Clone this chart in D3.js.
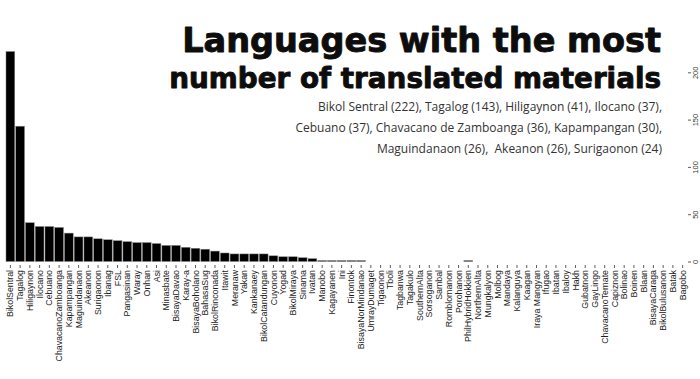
<!DOCTYPE html>
<html>
<head>
<meta charset="utf-8">
<script src="https://cdn.jsdelivr.net/npm/d3@7"></script>
<style>
  html, body { margin: 0; padding: 0; background: #fff; }
  svg { display: block; }
</style>
</head>
<body>
<svg id="chart" width="700" height="379"></svg>
<script>
// ---- data ----
const languages = [
  "BikolSentral","Tagalog","Hiligaynon","Ilocano","Cebuano","ChavacanoZamboanga","Kapampangan",
  "Maguindanaon","Akeanon","Surigaonon","Ibanag","FSL","Pangasinan","Waray","Onhan","Asi",
  "Minasbate","BisayaDavao","Karay-a","BisayaBoholano","BahasaSug","BikolRinconada","Itawit",
  "Meranaw","Yakan","Kankanaey","BikolCatandungan","Cuyonon","Yogad","BikolMiraya","Sinama",
  "Ivatan","Manobo","Kagayanen","Ini","Finontok","BisayaNorMindanao","UmrayDumaget","Tigaonon",
  "Tboli","Tagbanwa","Tagakulo","SouthernAlta","Sorsoganon","Sambal","Romblomanon","Porohanon",
  "PhilHybridHokkien","NorthernAlta","Mungkalyon","Molbog","Mandaya","Kalanguya","Kaagan",
  "Iraya Mangyan","Ifugao","Ibatan","Ibaloy","Hakh","Gubatnon","GayLingo","ChavacanoTernate",
  "Capiznon","Bolinao","Boinen","Blaan","BisayaCaraga","BikolBulusanon","Batak","Bagobo"
];
const materials = [
  222,143,41,37,37,36,30,
  26,26,24,23,22,21,20,20,19,
  17,17,15,14,13,11,9,
  8,8,8,8,6,5,5,4,
  3,1,1,1,1,1,0,0,
  0,0,0,0,0,0,0,0,
  1,0,0,0,0,0,0,
  0,0,0,0,0,0,0,0,
  0,0,0,0,0,0,0,0
];
const yTicks = [0, 50, 100, 150, 200];
const titleLines = ["Languages with the most", "number of translated materials"];
const subtitleLines = [
  "Bikol Sentral (222), Tagalog (143), Hiligaynon (41), Ilocano (37),",
  "Cebuano (37), Chavacano de Zamboanga (36), Kapampangan (30),",
  "Maguindanaon (26),\u00a0 Akeanon (26), Surigaonon (24)"
];

// ---- drawing ----
const svg = d3.select("#chart");
const data = languages.map((d, i) => ({ name: d, value: materials[i] }));

const x = d3.scaleBand().domain(languages).range([5.5, 687.5]).paddingInner(0.1).paddingOuter(0.05);
const y = d3.scaleLinear().domain([0, 200]).range([261.5, 72.3]);

// bars
svg.append("g").selectAll("rect").data(data).join("rect")
  .attr("x", d => x(d.name))
  .attr("width", x.bandwidth())
  .attr("y", d => y(d.value))
  .attr("height", d => y(0) - y(d.value))
  .attr("fill", "#000")
  .attr("stroke", d => d.value === 0 ? "#c4c4c4" : "#888")
  .attr("stroke-width", d => d.value === 0 ? 1 : 0.5);

// x axis
const xAxisY = 265;
const gx = svg.append("g").attr("transform", `translate(0,${xAxisY})`)
  .call(d3.axisBottom(x).tickSize(3).tickSizeOuter(0));
gx.select(".domain").remove();
gx.selectAll(".tick line").attr("stroke", "#333").attr("stroke-width", 0.8);
gx.selectAll(".tick text")
  .attr("transform", "rotate(-90)")
  .attr("text-anchor", "end")
  .attr("x", -5)
  .attr("y", 0)
  .attr("dy", "0.35em")
  .attr("fill", "#1a1a1a")
  .style("font-family", "'Liberation Sans', Arial, sans-serif")
  .style("font-size", "8.8px");

// y axis (right)
const gy = svg.append("g").attr("transform", "translate(688,0)")
  .call(d3.axisRight(y).tickValues(yTicks).tickSize(3));
gy.select(".domain").remove();
gy.selectAll(".tick line").attr("stroke", "#333").attr("stroke-width", 0.8);
gy.selectAll(".tick text")
  .attr("transform", "rotate(-90)")
  .attr("text-anchor", "middle")
  .attr("x", 0)
  .attr("y", 10)
  .attr("dy", 0)
  .attr("fill", "#333")
  .style("font-family", "'Liberation Sans', Arial, sans-serif")
  .style("font-size", "7.5px");

// title
const titleRight = 661;
const titleTargets = [479, 492];
const titleBase = [52, 88];
titleLines.forEach((t, i) => {
  const el = svg.append("text")
    .attr("x", titleRight).attr("y", titleBase[i])
    .attr("text-anchor", "end")
    .style("font-family", "'DejaVu Sans', sans-serif")
    .style("font-weight", 700)
    .style("font-size", "30px")
    .attr("fill", "#0d0d0d")
    .attr("stroke", "#0d0d0d")
    .attr("stroke-width", 0.9)
    .attr("stroke-linejoin", "round")
    .text(t);
  const w = el.node().getComputedTextLength();
  const fs = 30 * titleTargets[i] / w;
  el.style("font-size", fs + "px");
});

// subtitle
const subBase = [111, 132, 153];
subtitleLines.forEach((t, i) => {
  svg.append("text")
    .attr("x", 662).attr("y", subBase[i])
    .attr("text-anchor", "end")
    .style("font-family", "'Open Sans', sans-serif")
    .style("font-size", "12px")
    .attr("fill", "#333")
    .text(t);
});
</script>
</body>
</html>
